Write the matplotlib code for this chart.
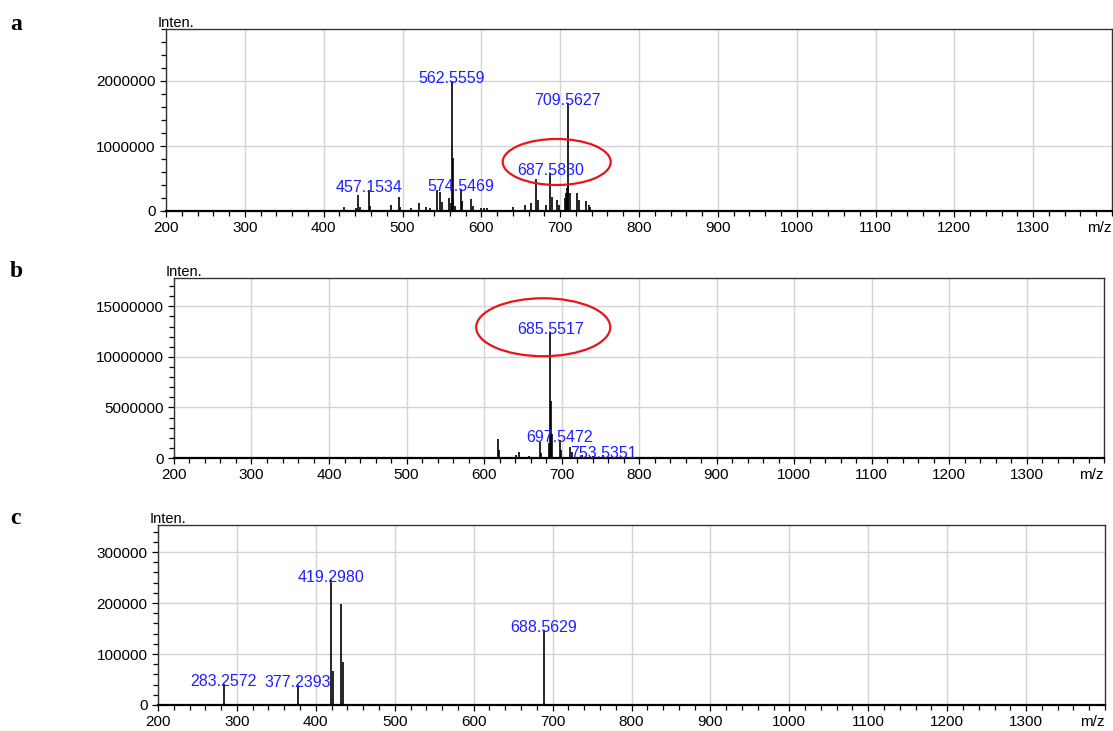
import numpy as np
import matplotlib.pyplot as plt
from matplotlib.patches import Ellipse
from matplotlib.ticker import MultipleLocator, FuncFormatter

plt.rcParams['font.family'] = ['Liberation Sans', 'DejaVu Sans']

# spectrum a
a_mz = [425.6, 441.0, 443.8, 446.0, 457.1534, 459.0, 485.0, 495.3, 497.0, 511.0,
        521.0, 530.0, 534.6, 544.3, 547.3, 550.6, 559.0, 561.0, 562.5559, 563.56,
        564.6, 566.0, 574.5469, 576.0, 587.4, 589.0, 600.0, 604.0, 607.0, 640.0,
        655.0, 663.5, 669.8, 672.0, 681.6, 687.5830, 690.0, 696.0, 699.0, 705.5,
        707.0, 708.3, 709.5627, 710.56, 712.5, 721.3, 723.5, 733.2, 736.0, 738.0]
a_int = [60e3, 50e3, 250e3, 60e3, 320e3, 75e3, 90e3, 210e3, 60e3, 40e3,
         118e3, 66e3, 50e3, 330e3, 300e3, 143e3, 195e3, 120e3, 2000e3, 815e3,
         180e3, 80e3, 340e3, 150e3, 185e3, 80e3, 45e3, 40e3, 45e3, 66e3,
         92e3, 118e3, 500e3, 170e3, 92e3, 580e3, 220e3, 170e3, 92e3, 200e3,
         280e3, 350e3, 1660e3, 400e3, 272e3, 280e3, 170e3, 154e3, 92e3, 66e3]
a_labels = [457.1534, 562.5559, 574.5469, 687.5830, 709.5627]

# spectrum b
b_mz = [617.5, 619.5, 641.5, 645.0, 658.7, 672.5, 674.0, 683.5, 685.5517, 686.55,
        687.6, 697.5472, 699.5, 711.5, 713.5, 726.4, 741.0, 753.5351, 771.6]
b_int = [1.9e6, 0.8e6, 0.3e6, 0.6e6, 0.2e6, 1.6e6, 0.5e6, 1.45e6, 12.5e6, 5.6e6,
         2.4e6, 1.8e6, 0.8e6, 1.1e6, 0.6e6, 0.3e6, 0.2e6, 0.25e6, 0.1e6]
b_labels = [685.5517, 697.5472, 753.5351]

# spectrum c
c_mz = [283.2572, 377.2393, 419.2980, 421.3, 432.3, 434.3, 688.5629]
c_int = [41e3, 40e3, 245e3, 67e3, 199e3, 84e3, 147e3]
c_labels = [283.2572, 377.2393, 419.2980, 688.5629]

fig = plt.figure(figsize=(11.13, 7.31), dpi=100)
W, H = 1113, 731


def panel(rect_px, mz, inten, labels, ymax, ymajor, yminor, letter, letter_y, ellipse=None):
    l, t, r, b = rect_px
    ax = fig.add_axes([l / W, 1 - b / H, (r - l) / W, (b - t) / H])
    ax.vlines(mz, 0, inten, color='black', lw=1.2)
    for m in labels:
        i = inten[mz.index(m)]
        ax.annotate(f'{m:.4f}', xy=(m, i), xytext=(0, -1.5), textcoords='offset points',
                    ha='center', va='baseline', color='#1f1fff', fontsize=11.5)
    if ellipse is not None:
        cx, cy, ew, eh = ellipse
        ax.add_patch(Ellipse((cx, cy), ew, eh, fill=False, ec='#e8141c', lw=1.6, zorder=5))
    ax.set_xlim(200, 1400)
    ax.set_ylim(0, ymax)
    ax.set_xticks(np.arange(200, 1301, 100))
    ax.xaxis.set_minor_locator(MultipleLocator(20))
    ax.yaxis.set_major_locator(MultipleLocator(ymajor))
    ax.yaxis.set_minor_locator(MultipleLocator(yminor))
    ax.yaxis.set_major_formatter(FuncFormatter(lambda v, p: f'{v:.0f}'))
    ax.grid(True, which='major', color='#d4d4d4', lw=1)
    ax.set_axisbelow(True)
    ax.tick_params(which='major', direction='out', length=4.5, width=0.9, labelsize=11, pad=3)
    ax.tick_params(which='minor', direction='out', length=3.5, width=0.9)
    for s in ax.spines.values():
        s.set_color('#333333')
        s.set_linewidth(1.0)
    ax.spines['bottom'].set_color('black')
    ax.spines['bottom'].set_linewidth(1.6)
    ax.annotate('Inten.', xy=(0, 1), xycoords='axes fraction', xytext=(-6, 1.5),
                textcoords='offset points', ha='left', va='baseline', fontsize=10.5)
    ax.annotate('m/z', xy=(1, 0), xycoords='axes fraction', xytext=(0, -7.5),
                textcoords='offset points', ha='right', va='top', fontsize=11)
    fig.text(10 / W, 1 - letter_y / H, letter, family=['Liberation Serif', 'DejaVu Serif'],
             fontweight='bold', fontsize=17, va='baseline')
    return ax


panel((166, 29, 1112, 211), a_mz, a_int, a_labels, 2.8e6, 1e6, 2e5, 'a', 30,
      ellipse=(695.6, 754e3, 137, 708e3))
panel((174, 278, 1104, 458), b_mz, b_int, b_labels, 17.8e6, 5e6, 1e6, 'b', 277,
      ellipse=(676.4, 12.93e6, 173, 5.73e6))
panel((158, 525, 1105, 705), c_mz, c_int, c_labels, 3.53e5, 1e5, 2e4, 'c', 524)

fig.savefig('out.png', dpi=100)
